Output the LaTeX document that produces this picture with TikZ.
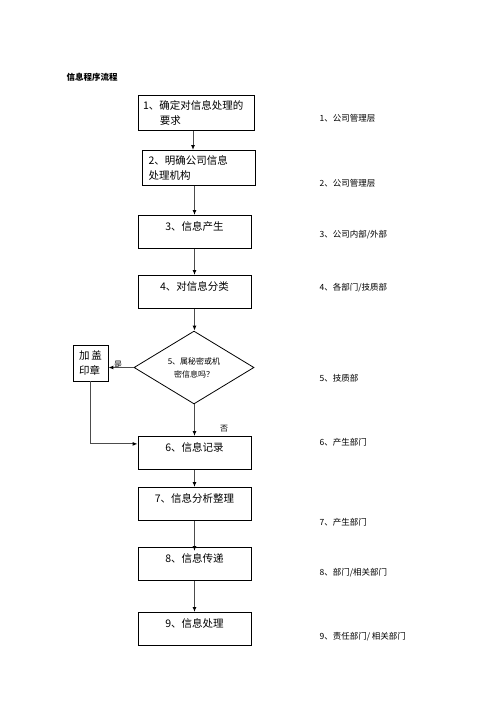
\documentclass[tikz,border=0pt]{standalone}
\usepackage{fontspec}
\setmainfont{Noto Sans CJK SC}
\usetikzlibrary{shapes.geometric,arrows.meta}

\begin{document}
\begin{tikzpicture}[x=1pt,y=-1pt,>={Latex[length=5pt,width=4pt,color=black]},
  stepbox/.style={draw,line width=.8pt,minimum width=113pt,minimum height=33pt,
    inner ysep=4pt,text height=11pt,text depth=14pt,anchor=north,
    font=\fontsize{10.5}{15}\selectfont},
  twobox/.style={draw,line width=.8pt,minimum height=35pt,anchor=north,
    align=left,font=\fontsize{10.5}{15}\selectfont},
  link/.style={draw=black!70,line width=1pt},
  side/.style={anchor=west,font=\fontsize{8.5}{10}\selectfont}]
\useasboundingbox (0,0) rectangle (496,702);

\node[anchor=west,font=\bfseries\fontsize{8.5}{10}\selectfont] (title) at (63,77) {信息程序流程};

% main column
\node[twobox,minimum width=116pt,text width=106pt] (b1) at (196,95)
  {1、确定对信息处理的\\\hspace*{1.6em}要求};
\node[twobox,minimum width=113pt,text width=100pt,inner xsep=6pt] (b2) at (198.5,150)
  {2、明确公司信息\\处理机构};
\node[stepbox] (b3) at (194.5,215) {3、信息产生};
\node[stepbox] (b4) at (194.5,275) {4、对信息分类};
\node[draw,line width=.8pt,diamond,minimum width=120pt,minimum height=59pt,inner sep=0pt,
  align=center,font=\fontsize{8}{13}\selectfont] (d5) at (194,367.5) {5、属秘密或机\\密信息吗？};
\node[stepbox] (b6) at (194.5,436) {6、信息记录};
\node[stepbox] (b7) at (194.5,487) {7、信息分析整理};
\node[stepbox] (b8) at (194.5,547) {8、信息传递};
\node[stepbox] (b9) at (194.5,612) {9、信息处理};

% seal branch
\node[draw,line width=.8pt,minimum width=35pt,minimum height=36pt,align=left,
  font=\fontsize{10.5}{15}\selectfont] (seal) at (90.5,363) {加\,盖\\印章};
\node[font=\fontsize{8}{10}\selectfont,inner sep=0pt] (yes) at (118,365) {是};
\node[font=\fontsize{8}{10}\selectfont,inner sep=0pt] (no) at (224,429) {否};

\draw[link,->] ([xshift=-3pt]b1.south) -- ([xshift=-3pt]b1.south |- b2.north);
\draw[link,->] (b2.south -| b3.south) -- (b3.north);
\draw[link,->] (b3.south) -- (b4.north);
\draw[link,->] (b4.south) -- (b4.south |- d5.north);
\draw[link,->] (d5.west) -- (seal.east |- d5.west);
\draw[link,->] (seal.south) |- ([yshift=9pt]b6.west);
\draw[link,->] (b6.north |- d5.south) -- (b6.north);
\draw[link,->] (b6.south) -- (b7.north);
\draw[link,->] (b7.south) -- ([yshift=-4pt]b8.north);
\draw[link,->] (b8.south) -- (b9.north);

% responsible departments
\begin{scope}[side]
\node (r1) at (316,118) {1、公司管理层};
\node (r2) at (316,183) {2、公司管理层};
\node (r3) at (316,235) {3、公司内部/外部};
\node (r4) at (316,288) {4、各部门/技质部};
\node (r5) at (316,378) {5、技质部};
\node (r6) at (316,442) {6、产生部门};
\node (r7) at (316,522) {7、产生部门};
\node (r8) at (316,573) {8、部门/相关部门};
\node (r9) at (316,637) {9、责任部门/ 相关部门};
\end{scope}
\end{tikzpicture}
\end{document}
